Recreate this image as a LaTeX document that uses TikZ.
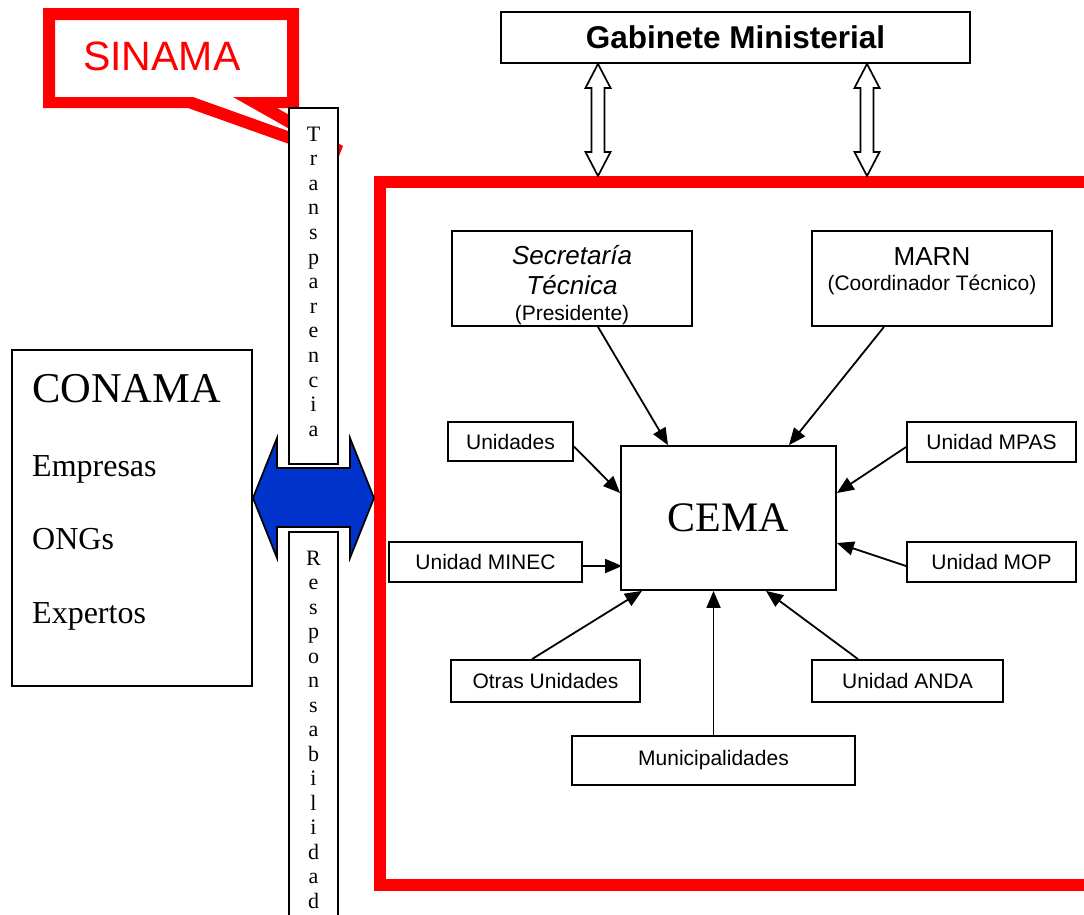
\documentclass[tikz,border=0pt]{standalone}
\usepackage{fontspec}
\setmainfont{Liberation Serif}
\setsansfont{Liberation Sans}
\usetikzlibrary{arrows.meta,calc}
\definecolor{sinred}{RGB}{255,0,0}
\definecolor{arrblue}{RGB}{0,51,204}
\tikzset{
  box/.style={draw=black, line width=1.8pt, fill=white, inner sep=0pt, font=\sffamily\fontsize{21}{25}\selectfont},
  plainbox/.style={draw=black, line width=1.8pt, fill=white, inner sep=0pt},
  arr/.style={line width=1.8pt, -{Triangle[length=17pt,width=14pt]}},
  hollow/.style={draw=black, line width=1.7pt, fill=white, line join=miter},
  letter/.style={anchor=base, inner sep=0pt, font=\fontsize{22}{24}\selectfont},
  txt/.style={anchor=base, inner sep=0pt},
}
\newcommand\hollowdarrow[2]{%
  \draw[hollow] (#1) -- ++(12.5,24) -- ++(-6,0) -- ($(#2)+(6.5,-24)$) -- ++(6,0) -- (#2)
    -- ++(-12.5,-24) -- ++(6,0) -- ($(#1)+(-6.5,24)$) -- ++(-6,0) -- cycle;}
\begin{document}
\begin{tikzpicture}[x=1pt,y=-1pt]
\useasboundingbox (0,0) rectangle (1084,914);
\clip (0,0) rectangle (1084,914);

% SINAMA callout
\fill[sinred, even odd rule]
  (43,8) -- (299,8) -- (299,108) -- (277,108) -- (343,146) -- (337,161) -- (188,108) -- (43,108) -- cycle
  (55,20) -- (287,20) -- (287,97) -- (233,97) -- (302,136) -- (193,97) -- (55,97) -- cycle;
\node[anchor=base west, inner sep=0pt, text=sinred, font=\sffamily\fontsize{41}{50}\selectfont] (sinama) at (83,70) {SINAMA};

% red frame
\coordinate (frNE) at (1110,182);
\coordinate (frNW) at (380,182);
\coordinate (frSW) at (380,885);
\coordinate (frSE) at (1110,885);
\coordinate (frtop) at (0,176);
\draw[sinred, line width=12pt, line join=miter] (frNE) -- (frNW) -- (frSW) -- (frSE);

% CONAMA
\node[plainbox, minimum width=240pt, minimum height=336pt] (conama) at (132,518) {};
\node[anchor=base west, inner sep=0pt, font=\fontsize{42.5}{48}\selectfont] (conamat) at (32,402) {CONAMA};
\node[anchor=base west, inner sep=0pt, font=\fontsize{32}{36}\selectfont] (empresas) at (32,476) {Empresas};
\node[anchor=base west, inner sep=0pt, font=\fontsize{32}{36}\selectfont] (ongs) at (32,549) {ONGs};
\node[anchor=base west, inner sep=0pt, font=\fontsize{32}{36}\selectfont] (expertos) at (32,623) {Expertos};

% blue double arrow
\coordinate (bl) at (253,498);
\coordinate (br) at (374,498);
\draw[line width=1.7pt, fill=arrblue, line join=miter] (bl) -- ++(24,-60) -- ++(0,30) -- ++(73,0) -- ++(0,-30) -- (br)
  -- ++(-24,60) -- ++(0,-31) -- ++(-73,0) -- ++(0,31) -- cycle;

% Transparencia column
\node[plainbox, minimum width=49pt, minimum height=356pt] (transp) at (313.5,286) {};
\foreach \c [count=\i from 0] in {T,r,a,n,s,p,a,r,e,n,c,i,a}
  \node[letter] (tr\i) at (313.5,{141+24.6*\i}) {\c};

% Responsabilidad column
\node[plainbox, minimum width=49pt, minimum height=420pt] (resp) at (313.5,742) {};
\foreach \c [count=\i from 0] in {R,e,s,p,o,n,s,a,b,i,l,i,d,a,d}
  \node[letter] (rs\i) at (313.5,{565+24.5*\i}) {\c};

% Gabinete
\node[box, font=\sffamily\bfseries\fontsize{31.5}{36}\selectfont, minimum width=469pt, minimum height=51pt] (gab) at (735.5,37.5) {Gabinete Ministerial};
\coordinate (g1t) at ([xshift=-137.5pt]gab.south);
\coordinate (g2t) at ([xshift=131.5pt]gab.south);
\coordinate (g1b) at (g1t |- frtop);
\coordinate (g2b) at (g2t |- frtop);
\hollowdarrow{g1t}{g1b}
\hollowdarrow{g2t}{g2b}

% Secretaria
\node[box, minimum width=240pt, minimum height=95pt] (sec) at (572,278.5) {};
\node[txt, font=\sffamily\itshape\fontsize{26}{30}\selectfont] (sec1) at (572,264) {Secretaría};
\node[txt, font=\sffamily\itshape\fontsize{26}{30}\selectfont] (sec2) at (572,294) {Técnica};
\node[txt, font=\sffamily\fontsize{21}{25}\selectfont] (sec3) at (572,320) {(Presidente)};

% MARN
\node[box, minimum width=240pt, minimum height=95pt] (marn) at (932,278.5) {};
\node[txt, font=\sffamily\fontsize{26}{30}\selectfont] (marn1) at (932,265) {MARN};
\node[txt, font=\sffamily\fontsize{21}{25}\selectfont] (marn2) at (932,290) {(Coordinador Técnico)};

% CEMA
\node[box, font=\rmfamily\fontsize{42}{48}\selectfont, minimum width=215pt, minimum height=144pt] (cema) at (728.5,518) {CEMA};

% units
\node[box, minimum width=125pt, minimum height=39pt] (unid) at (510.5,441.5) {Unidades};
\node[box, minimum width=193pt, minimum height=40pt] (minec) at (485.5,562) {Unidad MINEC};
\node[box, minimum width=169pt, minimum height=40pt] (mpas) at (991.5,442) {Unidad MPAS};
\node[box, minimum width=169pt, minimum height=40pt] (mop) at (991.5,562) {Unidad MOP};
\node[box, minimum width=189pt, minimum height=42pt] (otras) at (545.5,681) {Otras Unidades};
\node[box, minimum width=191pt, minimum height=42pt] (anda) at (907.5,681) {Unidad ANDA};
\node[box, minimum width=283pt, minimum height=49pt] (muni) at (713.5,760.5) {Municipalidades};

% connectors
\draw[arr] ([xshift=26pt]sec.south) -- ([xshift=-60.5pt]cema.north);
\draw[arr] ([xshift=-48pt]marn.south) -- ([xshift=60.5pt]cema.north);
\draw[arr] ([yshift=-5pt]unid.east) -- ([yshift=25pt]cema.west);
\draw[arr] ([yshift=-4pt]minec.east) -- ([yshift=-48pt,xshift=2pt]cema.west);
\draw[arr] ([yshift=-5pt]mpas.west) -- ([yshift=25pt]cema.east);
\draw[arr] ([yshift=-4pt]mop.west) -- ([yshift=-25pt]cema.east);
\draw[arr] ([xshift=-13.5pt]otras.north) -- ([xshift=-86.5pt]cema.south);
\draw[arr] (muni.north) -- (muni.north |- cema.south);
\draw[arr] ([xshift=-49.5pt]anda.north) -- ([xshift=37.5pt]cema.south);
\end{tikzpicture}
\end{document}
